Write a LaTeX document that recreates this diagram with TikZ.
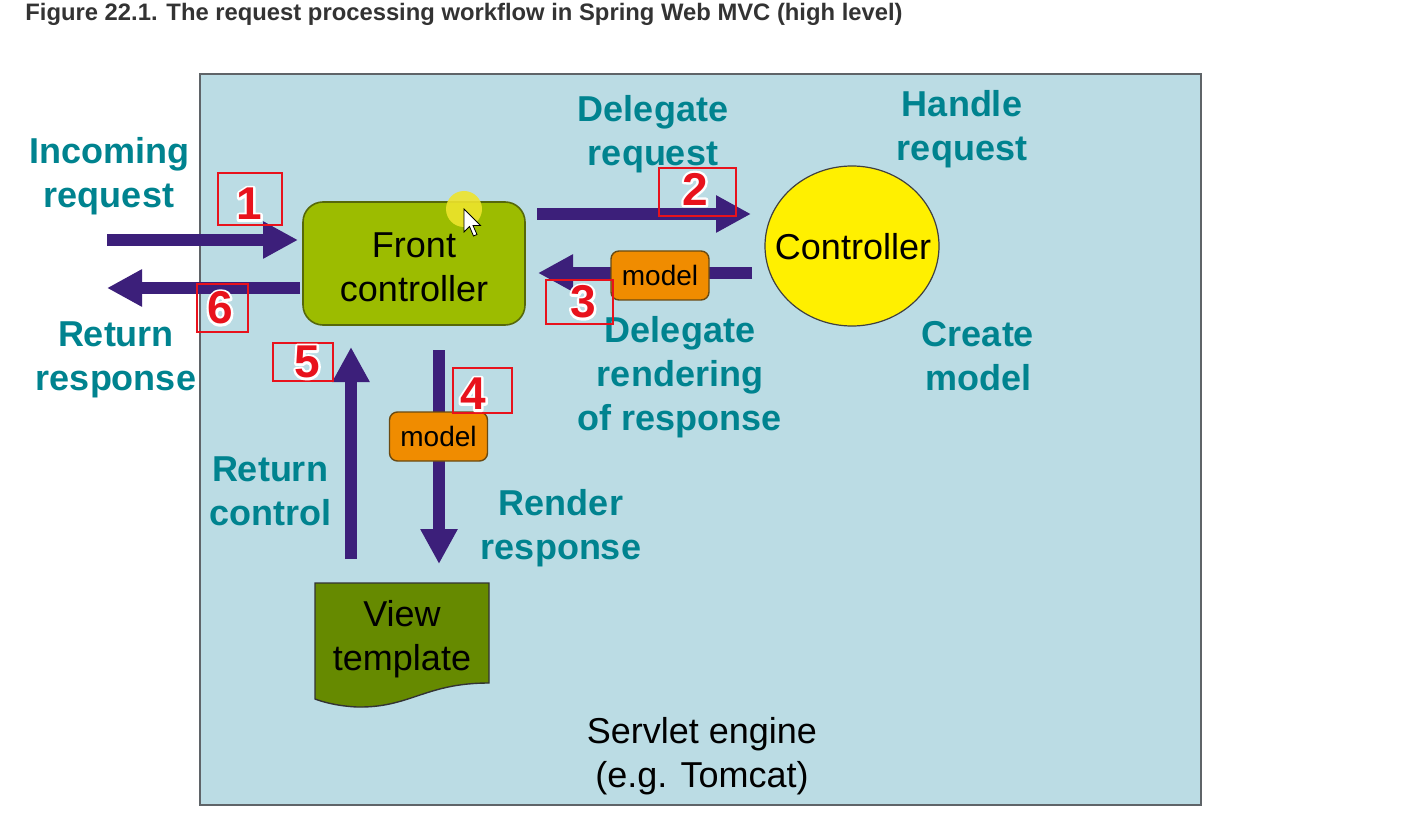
\documentclass[tikz,border=0pt]{standalone}
\usepackage{fontspec}
\setmainfont{Liberation Sans}
\usetikzlibrary{arrows.meta,calc,shapes.geometric}
\definecolor{bgblue}{HTML}{BBDCE4}
\definecolor{boxgray}{HTML}{5F6468}
\definecolor{fcgreen}{HTML}{9CBC00}
\definecolor{fcborder}{HTML}{56680A}
\definecolor{ctyellow}{HTML}{FFF000}
\definecolor{vtgreen}{HTML}{668A00}
\definecolor{mdorange}{HTML}{F08C00}
\definecolor{mdborder}{HTML}{6A4A12}
\definecolor{tealtxt}{HTML}{00838F}
\definecolor{arrowpurple}{HTML}{3C1F7A}
\definecolor{numred}{HTML}{E8121C}
\definecolor{titlegray}{HTML}{333333}
\definecolor{hilite}{HTML}{EEE42C}
\tikzset{
  flowarrow/.style={draw=arrowpurple, line width=6pt, -{Triangle[length=17.5pt,width=17.5pt]}, arrowpurple},
  tealabel/.style={text=tealtxt, font=\bfseries\fontsize{18}{22}\selectfont, align=center, inner sep=0pt},
  blacklabel/.style={text=black, font=\fontsize{18}{22}\selectfont, align=center, inner sep=0pt},
  modelbox/.style={draw=mdborder, fill=mdorange, line width=0.7pt, rounded corners=4pt, minimum width=49pt, minimum height=24.5pt, inner sep=0pt, font=\fontsize{14}{16}\selectfont},
  numbox/.style={draw=numred, line width=1pt},
  numtxt/.style={font=\bfseries\fontsize{23}{26}\selectfont, inner sep=0pt, text=numred},
  numhalo/.style={font=\bfseries\fontsize{23}{26}\selectfont, inner sep=0pt, text=white},
}
% white stroked copy used as a halo behind each red digit
\newcommand\halo[1]{\special{pdf:literal direct 2 Tr 1 j 2.4 w}#1\special{pdf:literal direct 0 Tr 1 w}}
\newcommand\stepnum[3]{%
  \node[numhalo] at (#2) {\halo{#3}};
  \node[numtxt] (#1) at (#2) {#3};
}
\begin{document}
\begin{tikzpicture}[x=0.5pt,y=-0.5pt]
\useasboundingbox (0,0) rectangle (1408,818);
\fill[white] (0,0) rectangle (1408,818);

% title
\node[anchor=base west, font=\bfseries\fontsize{11.9}{14}\selectfont, text=titlegray, inner sep=0pt] (title) at (25,21) {Figure 22.1. The request processing workflow in Spring Web MVC (high level)};

% servlet engine box
\node[draw=boxgray, fill=bgblue, line width=1pt, minimum width=500.5pt, minimum height=365pt, inner sep=0pt] (engine) at (700.5,439.5) {};

% coordinates for arrows
\coordinate (a1s) at (107,240); \coordinate (a1e) at (298,240);
\coordinate (a6s) at (300,288); \coordinate (a6e) at (107,288);
\coordinate (a2s) at (537,214); \coordinate (a2e) at (751,214);
\coordinate (a3s) at (752,273); \coordinate (a3e) at (538,273);
\coordinate (a4s) at (439,350); \coordinate (a4e) at (439,564);
\coordinate (a5s) at (351,559); \coordinate (a5e) at (351,347);

\draw[flowarrow] (a1s) -- (a1e);
\draw[flowarrow] (a6s) -- (a6e);
\draw[flowarrow] (a2s) -- (a2e);
\draw[flowarrow] (a3s) -- (a3e);
\draw[flowarrow] (a4s) -- (a4e);
\draw[flowarrow] (a5s) -- (a5e);

% front controller
\node[draw=fcborder, fill=fcgreen, line width=0.8pt, rounded corners=10pt, minimum width=111pt, minimum height=61.5pt, inner sep=0pt] (front) at (414,263.5) {};
\node[blacklabel] (fronttxt) at (414,267) {Front\\controller};

% controller
\node[draw=black!75, fill=ctyellow, line width=0.6pt, ellipse, minimum width=87pt, minimum height=80pt, inner sep=0pt] (ctrl) at (852,246) {};
\node[blacklabel] (ctrltxt) at (853,247) {Controller};

% model boxes
\node[modelbox] (model1) at (660,275.5) {model};
\node[modelbox] (model2) at (438.5,436.5) {model};

% view template
\draw[draw=black!80, fill=vtgreen, line width=0.7pt] (315,583) -- (489,583) -- (489,683)
  .. controls (425,683) and (410,708) .. (357,707)
  .. controls (337,706) and (323,702) .. (315,699) -- cycle;
\node[blacklabel] (view) at (402,639) {View\\template};

% teal labels
\node[tealabel] (incoming) at (109,176) {Incoming\\request};
\node[tealabel] (retresp) at (116,360) {Return\\response};
\node[tealabel] (delreq) at (653,134) {Delegate\\request};
\node[tealabel] (handle) at (962,129) {Handle\\request};
\node[tealabel] (delrend) at (680,377) {Delegate\\rendering\\of response};
\node[tealabel] (create) at (978,356) {Create\\model};
\node[tealabel] (retctrl) at (270,491) {Return\\control};
\node[tealabel] (render) at (561,528) {Render\\response};

% servlet engine label
\node[blacklabel] (servlet) at (702,756) {Servlet engine\\(e.g. Tomcat)};

% number boxes
\draw[numbox] (218,173) rectangle (282,225);
\draw[numbox] (659,168) rectangle (736,216);
\draw[numbox] (546,280) rectangle (613,324);
\draw[numbox] (453,368) rectangle (512,413);
\draw[numbox] (273,343) rectangle (333,381);
\draw[numbox] (197,284) rectangle (248,332);

\stepnum{num1}{249,204}{1}
\stepnum{num2}{695,189}{2}
\stepnum{num3}{583,302}{3}
\stepnum{num4}{473,394}{4}
\stepnum{num5}{307,362}{5}
\stepnum{num6}{220,308}{6}

% cursor highlight
\fill[hilite, opacity=0.9] (464,209) circle[radius=9pt];
\draw[fill=white, draw=black, line width=0.4pt, line join=miter]
  (464,209) -- ++(0,23) -- ++(5.5,-5.5) -- ++(4,9.5) -- ++(3.5,-1.5) -- ++(-4,-9) -- ++(7.5,0) -- cycle;
\end{tikzpicture}
\end{document}
